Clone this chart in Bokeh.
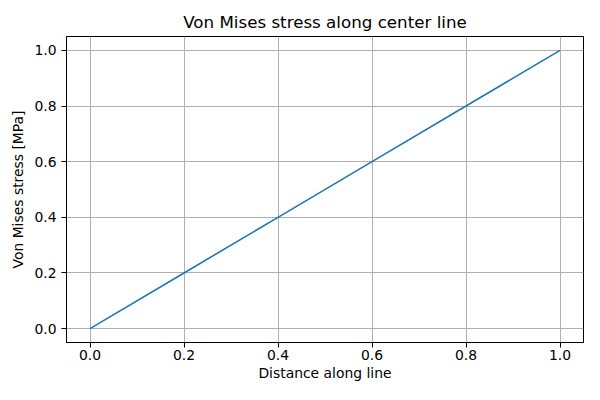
from bokeh.plotting import figure
from bokeh.embed import file_html
from bokeh.resources import INLINE
from bokeh.models import Range1d, FixedTicker

distance = [0.0, 0.2, 0.4, 0.6, 0.8, 1.0]
stress = [0.0, 0.2, 0.4, 0.6, 0.8, 1.0]
x_ticks = [0.0, 0.2, 0.4, 0.6, 0.8, 1.0]
y_ticks = [0.0, 0.2, 0.4, 0.6, 0.8, 1.0]

p = figure(width=584, height=384, output_backend="svg", toolbar_location=None,
           x_range=Range1d(-0.05, 1.05), y_range=Range1d(-0.05, 1.05),
           title="Von Mises stress along center line",
           min_border_left=66, min_border_right=1, min_border_top=36, min_border_bottom=42)

p.line(distance, stress, line_color="#1f77b4", line_width=1.6)

p.title.align = "center"
p.title.text_font = "DejaVu Sans"
p.title.text_font_size = "16.7px"
p.title.text_font_style = "normal"
p.title.text_color = "black"

p.outline_line_color = "black"
p.outline_line_width = 1

for ax in (p.xaxis, p.yaxis):
    ax.axis_label_text_font = "DejaVu Sans"
    ax.axis_label_text_font_size = "13.9px"
    ax.axis_label_text_font_style = "normal"
    ax.axis_label_text_color = "black"
    ax.major_label_text_font = "DejaVu Sans"
    ax.major_label_text_font_size = "13.9px"
    ax.major_label_text_color = "black"
    ax.minor_tick_line_color = None
    ax.major_tick_out = 5
    ax.major_tick_in = 0
    ax.major_tick_line_color = "black"
    ax.axis_line_color = "black"

p.xaxis.major_label_standoff = 2
p.xaxis.axis_label_standoff = 2

p.xaxis.axis_label = "Distance along line"
p.yaxis.axis_label = "Von Mises stress [MPa]"
p.xaxis.ticker = FixedTicker(ticks=x_ticks)
p.yaxis.ticker = FixedTicker(ticks=y_ticks)
p.xaxis.major_label_overrides = {t: f"{t:.1f}" for t in x_ticks}
p.yaxis.major_label_overrides = {t: f"{t:.1f}" for t in y_ticks}

p.xgrid.grid_line_color = "#b0b0b0"
p.ygrid.grid_line_color = "#b0b0b0"
p.xgrid.grid_line_width = 1
p.ygrid.grid_line_width = 1

open("out.html", "w").write(file_html(p, INLINE))
